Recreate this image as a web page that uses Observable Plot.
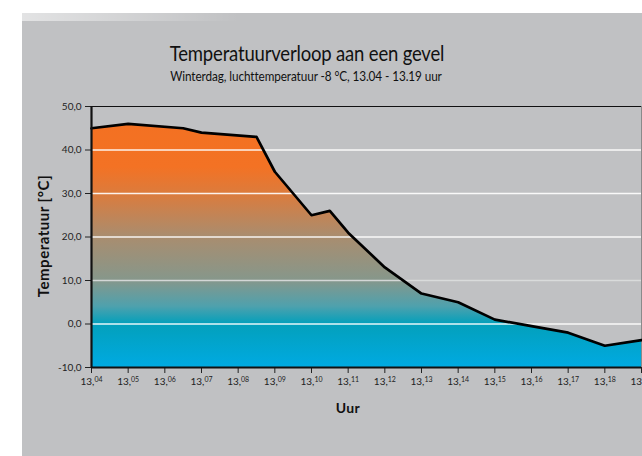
<!DOCTYPE html>
<html>
<head>
<meta charset="utf-8">
<script src="https://cdn.jsdelivr.net/npm/d3@7"></script>
<script src="https://cdn.jsdelivr.net/npm/@observablehq/plot@0.6"></script>
<style>
  html, body { margin: 0; padding: 0; background: #ffffff; width: 642px; height: 456px; overflow: hidden; }
  #panel { position: absolute; left: 22px; top: 13px; width: 620px; height: 443px; background: #c0c1c3; font-family: Lato, "DejaVu Sans", sans-serif; }
  #shade { position: absolute; left: 0; top: 0; width: 620px; height: 8px; background: linear-gradient(to right, rgba(255,255,255,0.55), rgba(255,255,255,0) 35%); }
  #title { position: absolute; left: 285px; top: 27px; transform: translateX(-50%) scaleX(0.86); white-space: nowrap; font-size: 21.5px; font-weight: 400; color: #111; letter-spacing: -0.2px; }
  #subtitle { position: absolute; left: 284px; top: 55px; transform: translateX(-50%) scaleX(0.87); white-space: nowrap; font-size: 13.5px; color: #111; letter-spacing: -0.1px; }
  #chart { position: absolute; left: 0; top: 77px; }
  #ylabel { position: absolute; left: 21px; top: 223px; transform: translate(-50%, -50%) rotate(-90deg); font-weight: bold; font-size: 15px; letter-spacing: 0.5px; white-space: nowrap; color: #111; }
  #xlabel { position: absolute; left: 326px; top: 386px; transform: translateX(-50%); font-weight: bold; font-size: 14px; letter-spacing: 0.4px; color: #111; }
</style>
</head>
<body>
<div id="panel">
  <div id="shade"></div>
  <div id="title">Temperatuurverloop aan een gevel</div>
  <div id="subtitle">Winterdag, luchttemperatuur -8 °C, 13.04 - 13.19 uur</div>
  <div id="chart"></div>
  <div id="ylabel">Temperatuur [°C]</div>
  <div id="xlabel">Uur</div>
</div>
<script>
// Data: minutes after 13.04 and surface temperature (°C)
const minutes = [0, 1, 2.5, 3, 4.5, 5, 6, 6.5, 7, 8, 9, 10, 11, 12, 13, 14, 15];
const temps   = [45, 46, 45, 44, 43, 35, 25, 26, 21, 13, 7, 5, 1, -0.5, -2, -5, -3.7];
const xTickMinutes = [0,1,2,3,4,5,6,7,8,9,10,11,12,13,14,15];
const xTickLabels = ["04","05","06","07","08","09","10","11","12","13","14","15","16","17","18","19"];
const yTicks = [-10, 0, 10, 20, 30, 40, 50];
const gridValues = [0, 10, 20, 30, 40];

const data = minutes.map((m, i) => ({m, t: temps[i]}));

const W = 620, H = 340, mT = 16, mB = 63, mL = 69, mR = 1;

const chart = Plot.plot({
  width: W,
  height: H,
  marginTop: mT,
  marginBottom: mB,
  marginLeft: mL,
  marginRight: mR,
  style: {background: "transparent", color: "#222", fontFamily: "Lato, 'DejaVu Sans', sans-serif", fontSize: "10px", overflow: "visible"},
  x: {domain: [0, 15], ticks: xTickMinutes, tickSize: 6, tickPadding: 4, tickFormat: (d) => "13," + xTickLabels[xTickMinutes.indexOf(d)], label: null},
  y: {domain: [-10, 50], ticks: yTicks, tickSize: 6, tickPadding: 4, tickFormat: (d) => d.toFixed(1).replace(".", ","), label: null},
  marks: [
    Plot.areaY(data, {x: "m", y1: -10, y2: "t", fill: "url(#tempGrad)"}),
    Plot.ruleY(gridValues, {stroke: (d) => d === 10 ? "#dcdede" : "white", strokeWidth: 1.3, strokeOpacity: 0.9}),
    Plot.ruleY([50], {stroke: "#111", strokeWidth: 1}),
    Plot.ruleX([15], {stroke: "#8a8a8a", strokeWidth: 1}),
    Plot.lineY(data, {x: "m", y: "t", stroke: "#000", strokeWidth: 2.7, strokeLinejoin: "round"}),
    Plot.ruleX([0], {stroke: "#111", strokeWidth: 2.2}),
    Plot.ruleY([-10], {stroke: "#111", strokeWidth: 2})
  ]
});

// Gradient definition in user space, from the y scale
const yScale = (v) => mT + (50 - v) / 60 * (H - mT - mB);
const svg = d3.select(chart.tagName.toLowerCase() === "svg" ? chart : chart.querySelector("svg"));
const defs = svg.insert("defs", ":first-child");
const grad = defs.append("linearGradient")
  .attr("id", "tempGrad")
  .attr("gradientUnits", "userSpaceOnUse")
  .attr("x1", 0).attr("x2", 0)
  .attr("y1", yScale(50)).attr("y2", yScale(-10));
const stops = [
  [50, "#f37021"], [36, "#f37224"], [30, "#dc7b3c"], [20, "#a98d6f"],
  [10, "#86978b"], [4, "#4fa1ad"], [0, "#03a0bb"], [-10, "#00aae2"]
];
stops.forEach(([v, c]) => grad.append("stop").attr("offset", ((50 - v) / 60)).attr("stop-color", c));

// Superscript minutes on x tick labels
svg.selectAll('[aria-label="x-axis tick label"] text').each(function() {
  const txt = d3.select(this).text();
  const parts = txt.split(",");
  const el = d3.select(this);
  el.text("");
  el.append("tspan").text(parts[0] + ",");
  el.append("tspan").attr("font-size", "7px").attr("dy", "-3").text(parts[1]);
});

document.getElementById("chart").appendChild(chart);
</script>
</body>
</html>
